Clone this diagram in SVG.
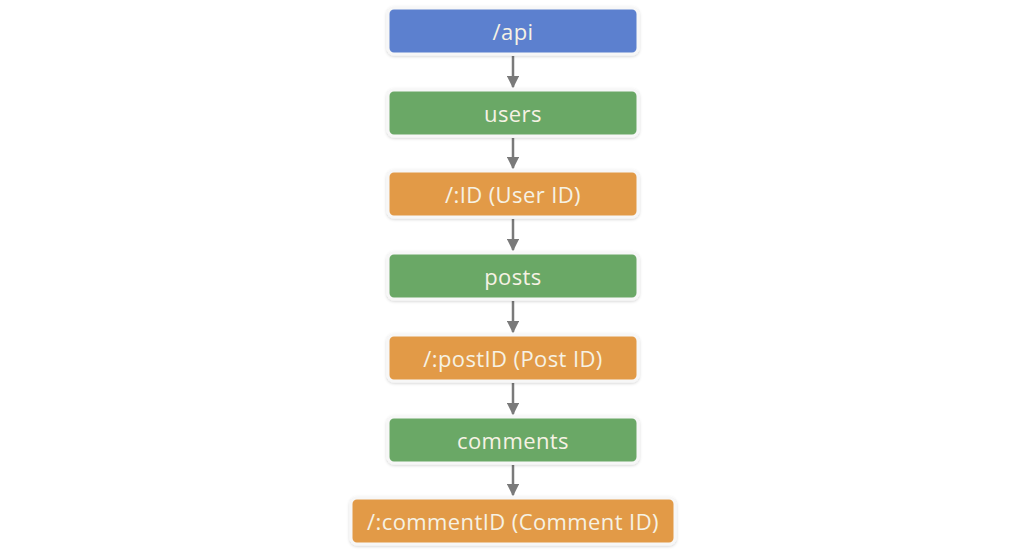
<svg xmlns="http://www.w3.org/2000/svg" width="1024" height="552" viewBox="0 0 1024 552">
<defs>
<style>
.box{stroke:#f7f7f7;stroke-width:3;filter:url(#sh)}
.blue{fill:#5b80cf}
.green{fill:#6aa866}
.orange{fill:#e29a46}
.lbl{font-family:"Open Sans","Liberation Sans",sans-serif;font-size:22px;letter-spacing:0.4px;fill:#f6f2e4;text-anchor:middle;dominant-baseline:central}
.conn{stroke:#7a7a7a;stroke-width:2.5;fill:none;marker-end:url(#ah)}
</style>
<filter id="sh" x="-10%" y="-30%" width="120%" height="160%">
<feDropShadow dx="0" dy="1" stdDeviation="1.5" flood-color="#000" flood-opacity="0.18"/>
</filter>
<marker id="ah" viewBox="0 0 10 10" refX="9" refY="5" markerWidth="5" markerHeight="5" markerUnits="strokeWidth" orient="auto">
<path d="M0,0 L10,5 L0,10 z" fill="#7a7a7a"/>
</marker>
</defs>
<rect width="1024" height="552" fill="#ffffff"/>
<g id="connectors">
<line class="conn" x1="513" y1="56" x2="513" y2="87"/>
<line class="conn" x1="513" y1="138" x2="513" y2="168"/>
<line class="conn" x1="513" y1="219" x2="513" y2="250"/>
<line class="conn" x1="513" y1="301" x2="513" y2="332"/>
<line class="conn" x1="513" y1="383" x2="513" y2="414"/>
<line class="conn" x1="513" y1="465" x2="513" y2="495"/>
</g>
<g id="api"><rect class="box blue" x="388" y="8" width="250" height="46" rx="6"/><text class="lbl" x="513" y="31">/api</text></g>
<g id="users"><rect class="box green" x="388" y="90" width="250" height="46" rx="6"/><text class="lbl" x="513" y="113">users</text></g>
<g id="userId"><rect class="box orange" x="388" y="171" width="250" height="46" rx="6"/><text class="lbl" x="513" y="194">/:ID (User ID)</text></g>
<g id="posts"><rect class="box green" x="388" y="253" width="250" height="46" rx="6"/><text class="lbl" x="513" y="276">posts</text></g>
<g id="postId"><rect class="box orange" x="388" y="335" width="250" height="46" rx="6"/><text class="lbl" x="513" y="358">/:postID (Post ID)</text></g>
<g id="comments"><rect class="box green" x="388" y="417" width="250" height="46" rx="6"/><text class="lbl" x="513" y="440">comments</text></g>
<g id="commentId"><rect class="box orange" x="351" y="498" width="324" height="46" rx="6"/><text class="lbl" x="513" y="521">/:commentID (Comment ID)</text></g>
</svg>
